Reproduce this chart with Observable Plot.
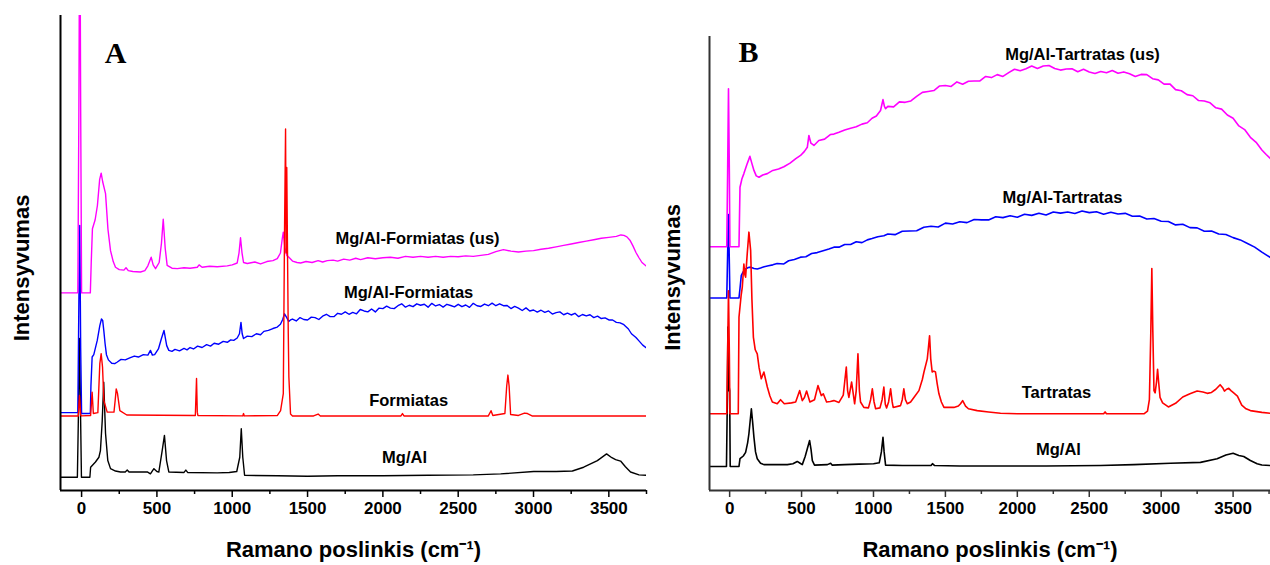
<!DOCTYPE html>
<html><head><meta charset="utf-8">
<script src="https://cdn.jsdelivr.net/npm/d3@7"></script>
<script src="https://cdn.jsdelivr.net/npm/@observablehq/plot@0.6"></script>
<style>
body{margin:0;background:#fff;}
#wrap{position:relative;width:1270px;height:565px;overflow:hidden;background:#fff;}
#wrap svg{position:absolute;top:0;}
</style></head><body><div id="wrap"></div>
<script>
// ---- scales / ticks ----
const xDomainA = [-140, 3750];
const xDomainB = [-140, 3760];
const yDomain = [0, 100];
const majorTicks = [0, 500, 1000, 1500, 2000, 2500, 3000, 3500];
const minorTicks = [250, 750, 1250, 1750, 2250, 2750, 3250, 3750];
const xTitle = "Ramano poslinkis (cm\u207B\u00B9)";
const yTitle = "Intensyvumas";
const panelLetters = ["A", "B"];

// ---- Panel A spectra: [Raman shift cm-1, intensity a.u.] ----
const mgAlA = [[-140,2.8],[-28,2.8],[-22,14],[-14,32],[-6,14],[-1,2.8],[55,2.8],[60,4.9],[92,6.0],[115,7.0],[125,8.4],[137,14.7],[147,22.8],[159,12],[174,6.3],[192,4.6],[225,4.1],[258,3.9],[290,3.9],[303,4.3],[315,3.9],[436,3.9],[457,3.5],[480,4.6],[500,4.0],[513,3.9],[535,8.4],[550,11.6],[564,6.3],[579,3.9],[680,3.8],[692,4.3],[704,3.8],[900,3.7],[980,3.8],[1030,4.0],[1050,7],[1060,13],[1070,7],[1082,3.2],[1300,3.1],[1500,3.0],[1700,3.1],[2000,3.1],[2300,3.2],[2600,3.3],[2782,3.5],[3001,4.0],[3150,4.0],[3258,4.1],[3333,4.9],[3424,6.3],[3485,7.7],[3520,6.9],[3545,6.5],[3578,6.2],[3610,5.0],[3644,3.9],[3700,3.3],[3750,3.2]];

const formiatasA = [[-140,15.7],[-22,15.7],[-14,20],[-6,15.9],[0,15.7],[60,15.8],[70,20.7],[78,16.2],[108,16.4],[121,26.7],[130,28.8],[139,26],[148,18.9],[170,16.5],[215,16.5],[223,19],[230,21.4],[238,20.5],[254,16.8],[300,15.9],[755,15.8],[763,23.6],[768,16.5],[772,15.8],[1070,15.7],[1075,16.2],[1080,15.7],[1300,15.8],[1321,16.8],[1339,20.4],[1347,54],[1354,76.1],[1358,50],[1362,68],[1367,50],[1372,33],[1376,23.9],[1387,16.1],[1400,15.7],[1540,15.7],[1570,16.1],[1585,15.7],[2120,15.7],[2130,16.2],[2140,15.7],[2700,15.7],[2718,16.8],[2730,15.8],[2810,16.2],[2822,22],[2830,24.3],[2838,22],[2848,16],[2900,15.8],[2940,16.3],[2960,16.2],[2990,15.7],[3750,15.7]];

const mgAlFormA = [[-140,16.4],[-25,16.4],[-18,40],[-12,55.8],[-6,30],[0,16.2],[58,16.2],[62,22],[70,28.1],[81,28.6],[104,31.6],[121,34.7],[132,36.1],[140,35.8],[148,33.5],[156,30.9],[165,28.6],[178,27.5],[200,26.8],[220,26.7],[235,27.0],[262,27.6],[290,27.5],[320,27.9],[350,28.3],[377,28.1],[410,28.6],[440,28.5],[457,29.5],[470,28.5],[485,28.6],[510,29.8],[530,32],[547,33.7],[565,30.5],[579,29.5],[600,29.3],[620,29.7],[650,29.4],[680,29.9],[700,29.6],[720,30.1],[743,29.8],[770,30.4],[800,30.1],[830,30.7],[856,30.4],[880,31.0],[910,30.8],[940,31.4],[967,31.2],[990,31.7],[1010,31.6],[1033,32.1],[1048,33],[1058,35.4],[1066,33],[1075,32.0],[1100,32.5],[1130,32.4],[1160,33.0],[1188,32.8],[1210,33.5],[1240,33.7],[1270,34.1],[1299,34.4],[1320,35],[1335,36],[1347,37.2],[1360,36.5],[1375,35.6],[1387,35.9],[1400,36.1],[1425,35.7],[1450,36.4],[1475,36.0],[1500,35.9],[1525,36.5],[1550,36.4],[1575,36.0],[1600,36.7],[1625,37.1],[1650,36.6],[1675,36.6],[1700,37.3],[1725,37.1],[1750,37.6],[1775,37.1],[1800,37.5],[1825,37.2],[1850,38.1],[1875,37.8],[1900,37.6],[1925,38.2],[1950,37.6],[1975,38.4],[2000,38.3],[2025,38.8],[2050,38.4],[2075,38.3],[2100,38.9],[2125,39.3],[2150,38.6],[2175,39.0],[2200,38.7],[2225,39.3],[2250,39.0],[2275,39.2],[2300,38.6],[2325,39.4],[2350,38.85],[2375,39.15],[2400,38.6],[2425,39.2],[2450,38.95],[2475,38.65],[2500,39.2],[2525,38.7],[2550,39.05],[2575,38.55],[2600,39.4],[2625,38.9],[2650,38.75],[2675,39.25],[2700,38.9],[2725,39.45],[2750,38.9],[2775,39.3],[2800,38.9],[2825,38.95],[2850,38.3],[2875,38.75],[2900,38.4],[2925,37.9],[2950,38.45],[2975,37.8],[3000,38.0],[3025,37.55],[3050,37.95],[3075,37.5],[3100,37.8],[3125,37.15],[3150,37.45],[3175,37.6],[3200,37.0],[3225,37.35],[3250,36.95],[3275,37.3],[3300,36.6],[3325,37.05],[3350,36.75],[3375,37.0],[3400,36.4],[3425,36.7],[3450,36.2],[3475,36.35],[3500,35.9],[3525,35.9],[3550,35.4],[3575,35.3],[3600,34.9],[3630,34.0],[3650,33.0],[3680,32.2],[3700,31.5],[3725,30.6],[3750,30.0]];

const mgAlFormUsA = [[-140,41.6],[-25,41.6],[-18,80],[-12,130],[-6,80],[0,41.6],[58,41.6],[64,48],[72,55.1],[90,57],[105,60],[120,65.5],[130,66.8],[140,65],[159,62.5],[175,55],[192,50.5],[210,48.2],[225,47.0],[250,46.5],[281,46.4],[295,46.9],[310,46.3],[340,46.1],[391,46.0],[420,46.3],[440,47.3],[462,49.1],[475,47.5],[491,46.7],[515,48],[530,52],[542,57.1],[555,51],[568,47.4],[600,46.8],[635,46.7],[680,46.9],[720,46.8],[768,47.0],[780,47.5],[800,47.0],[850,47.2],[900,47.1],[967,47.3],[1000,47.5],[1033,47.9],[1045,50],[1055,53.2],[1065,50],[1075,48.0],[1100,47.8],[1150,48.1],[1188,47.7],[1230,48.2],[1270,48.4],[1299,48.8],[1320,50],[1332,53],[1339,54.4],[1350,51],[1362,49.5],[1376,49.1],[1400,48.3],[1430,48.0],[1454,47.9],[1490,48.2],[1530,48.0],[1570,48.4],[1600,48.1],[1631,48.4],[1670,48.5],[1700,48.3],[1740,48.7],[1780,48.5],[1820,48.9],[1852,48.6],[1900,49.0],[1950,48.8],[2000,49.0],[2050,49.1],[2100,48.9],[2150,49.3],[2200,49.1],[2250,49.3],[2300,49.1],[2350,49.3],[2400,49.1],[2450,49.3],[2500,49.2],[2550,49.4],[2600,49.3],[2650,49.5],[2700,49.7],[2750,50.3],[2800,50.7],[2850,50.4],[2900,50.2],[2950,50.4],[3000,50.5],[3050,50.8],[3100,51.0],[3150,51.3],[3200,51.6],[3250,51.9],[3300,52.2],[3350,52.5],[3400,52.8],[3450,53.1],[3500,53.3],[3550,53.5],[3580,53.8],[3600,53.7],[3620,53.4],[3640,52.7],[3660,51.5],[3680,50.1],[3700,49.0],[3720,48.0],[3750,47.2]];

// ---- Panel B spectra ----
const mgAlB = [[-140,5.3],[-22,5.3],[-16,20],[-12,36],[-8,22],[-4,23],[0,22],[4,5.3],[65,5.3],[72,7.0],[95,7.6],[111,8.4],[125,10.5],[134,12.5],[151,18.0],[160,15],[169,11.7],[180,8.5],[192,7.0],[215,6.0],[238,5.7],[300,5.7],[401,5.7],[440,5.9],[470,6.4],[490,6.0],[505,5.7],[525,7.5],[540,9.2],[556,11.0],[566,9],[575,6.6],[590,5.6],[680,5.7],[702,6.0],[712,5.6],[800,5.7],[900,5.8],[1000,5.9],[1040,6.1],[1055,8.5],[1066,11.7],[1074,8.5],[1084,5.6],[1200,5.5],[1400,5.5],[1410,5.9],[1425,5.5],[1600,5.4],[1900,5.4],[2200,5.4],[2578,5.5],[2810,5.7],[3064,6.0],[3273,6.2],[3389,7.0],[3450,7.8],[3500,8.2],[3540,7.7],[3574,7.5],[3620,6.6],[3667,5.9],[3700,5.6],[3760,5.5]];

const tartratasB = [[-140,16.9],[-20,16.9],[-14,30],[-8,44],[-2,30],[2,16.9],[60,16.9],[65,38.2],[80,43],[88,44.8],[99,49.9],[106,47.5],[111,47],[122,52],[134,56.9],[146,52.9],[155,42],[165,33.8],[178,31],[192,30.1],[205,27],[220,24.6],[238,26.1],[262,22.8],[280,20.8],[297,19.5],[331,19.1],[354,20.0],[380,19.1],[430,19.3],[459,19.5],[470,20.5],[487,22.0],[505,19.8],[520,20.5],[535,21.9],[558,19.5],[590,20],[614,23.1],[637,20.9],[651,21.3],[674,19.5],[700,19.6],[725,19.8],[760,19.4],[790,21],[811,27.2],[820,22],[829,20.5],[848,23.9],[869,19.1],[880,22],[892,30.1],[902,22],[910,19.5],[933,18.3],[965,18.2],[980,20],[992,22.4],[1004,19.5],[1015,18.0],[1045,18.2],[1060,20],[1072,22.8],[1082,19],[1091,18.2],[1105,19.5],[1119,22.4],[1130,19.5],[1137,18.3],[1188,18.7],[1200,20],[1211,22.4],[1222,20],[1235,19.1],[1258,19.5],[1281,20.5],[1316,22.0],[1340,24.5],[1351,26.1],[1374,29.0],[1382,31.5],[1390,34.1],[1398,29],[1408,26.1],[1420,26.3],[1431,26.1],[1443,23.5],[1455,21.3],[1472,19.5],[1490,18.3],[1559,18.3],[1590,18.6],[1605,19.1],[1620,19.8],[1640,18.6],[1660,18.0],[1721,17.6],[1800,17.3],[1883,17.0],[2000,16.9],[2600,16.9],[2610,17.3],[2620,16.9],[2880,16.9],[2905,17.5],[2918,20],[2928,35],[2935,48.9],[2942,35],[2950,22],[2958,21.5],[2968,24],[2975,26.7],[2982,24],[2992,20.5],[3010,19.3],[3050,18.4],[3100,19.2],[3150,20.6],[3200,21.3],[3250,21.9],[3290,21.7],[3320,21.4],[3350,21.6],[3380,22.3],[3410,23.3],[3430,22.5],[3440,21.9],[3455,22.3],[3470,22.5],[3485,22.0],[3500,21.6],[3530,20.8],[3560,18.8],[3590,18.0],[3620,17.6],[3700,17.2],[3760,17.0]];

const mgAlTartB = [[-140,42.4],[-20,42.4],[-14,52],[-8,60.8],[-2,50],[2,42.4],[65,42.4],[72,44.5],[81,47.4],[95,48.2],[111,48.8],[130,49.1],[146,49.2],[170,48.9],[192,48.8],[215,49.0],[240,49.3],[270,49.5],[300,49.7],[330,50.0],[377,49.9],[410,50.6],[450,50.9],[493,51.4],[530,51.5],[570,52.2],[609,52.4],[650,52.8],[690,53.2],[725,53.6],[760,53.6],[800,54.2],[841,54.2],[880,54.8],[920,54.6],[957,55.2],[990,55.5],[1030,55.9],[1072,56.1],[1100,56.5],[1150,56.35],[1200,57.1],[1250,57.15],[1300,57.2],[1350,58.0],[1400,58.2],[1450,58.05],[1500,58.9],[1550,58.7],[1600,59.2],[1650,59.0],[1700,59.7],[1750,59.6],[1800,59.6],[1850,60.3],[1900,60.1],[1950,60.5],[2000,60.2],[2050,60.85],[2100,60.6],[2150,61.05],[2200,60.7],[2250,61.35],[2300,61.1],[2350,61.35],[2400,61.0],[2450,61.55],[2500,61.2],[2550,61.4],[2600,60.85],[2650,61.3],[2700,60.9],[2750,61.05],[2800,60.4],[2850,60.45],[2900,59.8],[2950,59.9],[3000,59.3],[3050,59.25],[3100,58.5],[3150,58.65],[3200,57.9],[3250,57.85],[3300,57.1],[3350,57.15],[3400,56.5],[3450,56.4],[3500,55.7],[3550,55.2],[3600,54.4],[3650,53.6],[3700,52.5],[3730,51.9],[3760,51.3]];

const mgAlTartUsB = [[-140,53.7],[-20,53.7],[-14,70],[-8,88.5],[-2,70],[2,53.7],[65,53.7],[72,66.8],[85,68.6],[99,69.8],[120,71.8],[141,73.6],[155,72],[169,70.5],[185,69.3],[204,69.0],[230,69.5],[262,69.8],[300,70.5],[340,70.8],[377,71.3],[420,72.1],[460,73.1],[493,73.8],[520,74.7],[540,75.6],[551,78.2],[565,76.5],[586,76.0],[620,77.1],[660,77.4],[700,78.4],[725,78.5],[760,78.9],[800,79.4],[841,79.8],[880,80.1],[920,80.7],[957,81.0],[990,82.0],[1020,82.5],[1049,83.7],[1066,86.1],[1076,84.6],[1084,84.1],[1100,84.6],[1140,84.5],[1180,85.6],[1220,85.5],[1260,85.8],[1300,86.8],[1340,87.7],[1380,87.9],[1420,88.1],[1460,89.1],[1500,89.2],[1540,89.0],[1580,90.0],[1620,89.5],[1660,90.15],[1700,90.2],[1740,90.2],[1780,91.2],[1820,90.95],[1860,91.6],[1900,91.2],[1940,92.05],[1980,92.8],[2020,92.45],[2060,92.9],[2100,93.5],[2140,92.95],[2180,93.5],[2220,93.6],[2260,92.95],[2300,92.6],[2340,92.85],[2380,92.9],[2420,92.25],[2460,92.8],[2500,92.2],[2540,91.85],[2580,92.3],[2620,92.0],[2660,92.5],[2700,91.9],[2740,92.2],[2780,91.8],[2820,91.2],[2860,91.65],[2900,91.6],[2940,90.7],[2980,90.45],[3020,89.5],[3060,89.55],[3100,88.3],[3140,88.05],[3180,87.2],[3220,86.95],[3260,85.9],[3300,85.8],[3340,85.4],[3380,84.3],[3420,84.0],[3460,82.7],[3500,82.0],[3540,80.3],[3580,79.5],[3620,77.8],[3660,76.7],[3700,75.0],[3730,74.0],[3760,73.1]];

// ---- curve labels (data coordinates) ----
const labelsA = [
  {text: "Mg/Al-Formiatas (us)", x: 2230, y: 53.1},
  {text: "Mg/Al-Formiatas", x: 2171, y: 41.6},
  {text: "Formiatas", x: 2171, y: 18.8},
  {text: "Mg/Al", x: 2144, y: 6.9}
];
const labelsB = [
  {text: "Mg/Al-Tartratas (us)", x: 2453, y: 96.0},
  {text: "Mg/Al-Tartratas", x: 2314, y: 64.5},
  {text: "Tartratas", x: 2272, y: 21.6},
  {text: "Mg/Al", x: 2286, y: 9.0}
];

const colors = {black: "#000000", red: "#ff0000", blue: "#0000ff", magenta: "#ff00ff"};
const FONT = "'Liberation Sans', Arial, sans-serif";

function panel(cfg) {
  const lw = cfg.lineWidth;
  const line = (data, color) => Plot.line(data, {x: d => d[0], y: d => d[1], stroke: color, strokeWidth: lw, clip: true, strokeLinejoin: "round"});
  const centered = {textAnchor: "middle", lineAnchor: "middle", fontWeight: "bold", fill: "#000"};
  return Plot.plot({
    width: cfg.width, height: 565,
    marginLeft: cfg.marginLeft, marginRight: cfg.marginRight,
    marginTop: cfg.marginTop, marginBottom: 75,
    style: {background: "none", overflow: "visible", fontFamily: FONT, color: "#000"},
    x: {domain: cfg.xDomain},
    y: {domain: yDomain, axis: null},
    marks: [
      line(cfg.series[0], colors.black),
      line(cfg.series[2], colors.blue),
      line(cfg.series[3], colors.magenta),
      line(cfg.series[1], colors.red),
      Plot.ruleX([cfg.xDomain[0]], {stroke: cfg.axisColor, strokeWidth: 2}),
      Plot.ruleY([yDomain[0]], {stroke: cfg.axisColor, strokeWidth: 2}),
      Plot.axisX({ticks: minorTicks, tickSize: 4, text: null, label: null, stroke: cfg.axisColor, strokeWidth: 1.5}),
      Plot.axisX({ticks: majorTicks, tickSize: 7, tickPadding: 4, tickFormat: d3.format("d"), label: null,
        stroke: cfg.axisColor, strokeWidth: 1.5, fill: "#000", fontSize: 17, fontWeight: "bold"}),
      Plot.text([xTitle], {...centered, frameAnchor: "bottom", dy: 59, text: d => d, fontSize: 22}),
      Plot.text([yTitle], {...centered, frameAnchor: "left", dx: cfg.yTitleDx, dy: cfg.yTitleDy, rotate: -90, text: d => d, fontSize: 22}),
      Plot.text([cfg.letter], {...centered, frameAnchor: "top-left", dx: cfg.letterDx, dy: cfg.letterDy, text: d => d, fontSize: 30, fontFamily: "'Liberation Serif', 'Times New Roman', serif"}),
      Plot.text(cfg.labels, {x: "x", y: "y", text: "text", fontSize: 16.5, fontWeight: "bold", fill: "#000"})
    ]
  });
}

const wrap = document.getElementById("wrap");
const svgA = panel({
  width: 660, marginLeft: 60, marginRight: 14, marginTop: 15, xDomain: xDomainA,
  series: [mgAlA, formiatasA, mgAlFormA, mgAlFormUsA], labels: labelsA,
  axisColor: "#000", lineWidth: 1.4, letter: panelLetters[0], letterDx: 55, letterDy: 38,
  yTitleDx: -39, yTitleDy: 15
});
svgA.style.left = "0px";
wrap.appendChild(svgA);

const svgB = panel({
  width: 630, marginLeft: 69, marginRight: 0, marginTop: 36, xDomain: xDomainB,
  series: [mgAlB, tartratasB, mgAlTartB, mgAlTartUsB], labels: labelsB,
  axisColor: "#333", lineWidth: 1.6, letter: panelLetters[1], letterDx: 39, letterDy: 16,
  yTitleDx: -37, yTitleDy: 14
});
svgB.style.left = "640px";
wrap.appendChild(svgB);
</script></body></html>
